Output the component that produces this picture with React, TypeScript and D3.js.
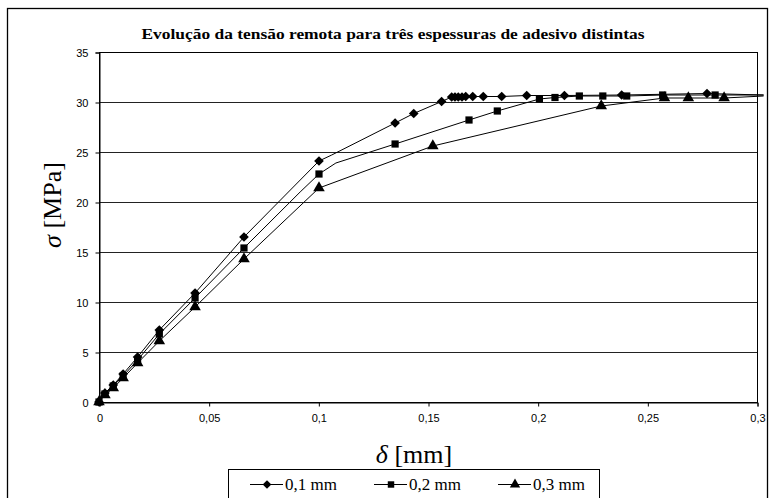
import { useEffect, useRef } from "react";
import * as d3 from "d3";

// each point: [delta (mm), sigma (MPa), marker shown 1/0]
const S1: [number, number, number][] = [
  [0, 0, 1], [0.0027, 0.9, 1], [0.0065, 1.7, 1], [0.011, 2.8, 1], [0.0176, 4.5, 1],
  [0.0275, 7.2, 1], [0.0438, 10.9, 1], [0.0661, 16.5, 1], [0.1003, 24.1, 1],
  [0.1061, 24.7, 0], [0.135, 27.9, 1], [0.1435, 28.85, 1], [0.1562, 30.05, 1],
  [0.1608, 30.5, 1], [0.1623, 30.5, 1], [0.1638, 30.5, 1], [0.1655, 30.5, 1],
  [0.1672, 30.55, 1], [0.1704, 30.55, 1], [0.1752, 30.55, 1], [0.1836, 30.55, 1],
  [0.195, 30.65, 1], [0.2122, 30.65, 1], [0.2383, 30.7, 1], [0.2772, 30.85, 1],
  [0.303, 30.7, 0],
];
const S2: [number, number, number][] = [
  [0, 0, 1], [0.0027, 0.8, 1], [0.0065, 1.6, 1], [0.011, 2.6, 1], [0.0176, 4.2, 1],
  [0.0275, 6.8, 1], [0.0438, 10.4, 1], [0.0661, 15.4, 1], [0.0917, 21.0, 0],
  [0.1003, 22.8, 1], [0.108, 23.9, 0], [0.135, 25.8, 1], [0.1687, 28.2, 1],
  [0.1816, 29.1, 1], [0.2008, 30.3, 1], [0.2079, 30.45, 1], [0.219, 30.6, 1],
  [0.2297, 30.6, 1], [0.2406, 30.6, 1], [0.257, 30.7, 1], [0.2809, 30.7, 1],
  [0.303, 30.7, 0],
];
const S3: [number, number, number][] = [
  [0, 0, 1], [0.0027, 0.7, 1], [0.0065, 1.4, 1], [0.011, 2.4, 1], [0.0176, 3.9, 1],
  [0.0275, 6.1, 1], [0.0438, 9.5, 1], [0.0661, 14.3, 1], [0.1003, 21.4, 1],
  [0.1522, 25.6, 1], [0.229, 29.6, 1], [0.2578, 30.4, 1], [0.2687, 30.4, 1],
  [0.285, 30.4, 1], [0.303, 30.6, 0],
];
const SERIES_NAMES = ["0,1 mm", "0,2 mm", "0,3 mm"];
const X_TICKS = [0, 0.05, 0.1, 0.15, 0.2, 0.25, 0.3];
const Y_TICKS = [0, 5, 10, 15, 20, 25, 30, 35];
const TITLE = "Evolução da tensão remota para três espessuras de adesivo distintas";

const W = 770;
const H = 498;
const M = { top: 52, right: 13, bottom: 96, left: 99 };

const SYMBOLS = [d3.symbolDiamond2, d3.symbolSquare, d3.symbolTriangle];
const SIZES = [60, 52, 58];

const SERIF = "Times New Roman, Liberation Serif, Tinos, serif";
const SANS = "Arial, Liberation Sans, Arimo, sans-serif";

export default function App() {
  const ref = useRef<SVGSVGElement>(null);

  useEffect(() => {
    if (!ref.current) return;
    const svg = d3.select(ref.current);
    svg.selectAll("*").remove();

    const innerW = W - M.left - M.right;
    const innerH = H - M.top - M.bottom;

    const x = d3.scaleLinear().domain([0, 0.3]).range([M.left, M.left + innerW]);
    const y = d3.scaleLinear().domain([0, 35]).range([M.top + innerH, M.top]);

    // outer chart border
    svg
      .append("rect")
      .attr("x", 7.5)
      .attr("y", 8.5)
      .attr("width", 760)
      .attr("height", 520)
      .attr("fill", "#fff")
      .attr("stroke", "#000")
      .attr("stroke-width", 1.3);

    svg
      .append("text")
      .attr("x", 393)
      .attr("y", 39)
      .attr("text-anchor", "middle")
      .attr("font-family", SERIF)
      .attr("font-weight", "bold")
      .attr("font-size", 15)
      .attr("textLength", 503)
      .attr("lengthAdjust", "spacingAndGlyphs")
      .text(TITLE);

    // gridlines
    svg
      .append("g")
      .selectAll("line")
      .data(Y_TICKS.filter((t) => t > 0 && t < 35))
      .join("line")
      .attr("x1", M.left)
      .attr("x2", M.left + innerW)
      .attr("y1", (d) => Math.round(y(d)) + 0.5)
      .attr("y2", (d) => Math.round(y(d)) + 0.5)
      .attr("stroke", "#222")
      .attr("stroke-width", 1);

    // plot frame
    svg
      .append("rect")
      .attr("x", M.left + 0.5)
      .attr("y", M.top + 0.5)
      .attr("width", innerW)
      .attr("height", innerH)
      .attr("fill", "none")
      .attr("stroke", "#000");

    const axisStyle = (g: d3.Selection<SVGGElement, unknown, null, undefined>) => {
      g.select(".domain").attr("stroke", "#000");
      g.selectAll("line").attr("stroke", "#000");
      g.selectAll("text").attr("fill", "#000").attr("font-size", 11).attr("font-family", SANS);
    };

    svg
      .append("g")
      .attr("transform", `translate(0.5,${M.top + innerH + 0.5})`)
      .call(
        d3
          .axisBottom(x)
          .tickValues(X_TICKS)
          .tickSize(4)
          .tickPadding(8)
          .tickFormat((d) => String(d).replace(".", ","))
      )
      .call(axisStyle);

    svg
      .append("g")
      .attr("transform", `translate(${M.left + 0.5},0.5)`)
      .call(d3.axisLeft(y).tickValues(Y_TICKS).tickSize(4).tickPadding(7))
      .call(axisStyle);

    // axis titles
    const yl = svg
      .append("text")
      .attr("transform", "translate(61,205) rotate(-90)")
      .attr("text-anchor", "middle")
      .attr("font-family", SERIF)
      .attr("font-size", 26);
    yl.append("tspan").attr("font-style", "italic").text("σ");
    yl.append("tspan").text(" [MPa]");

    const xl = svg
      .append("text")
      .attr("x", 414)
      .attr("y", 463)
      .attr("text-anchor", "middle")
      .attr("font-family", SERIF)
      .attr("font-size", 26);
    xl.append("tspan").attr("font-style", "italic").text("δ");
    xl.append("tspan").text(" [mm]");

    // series
    const line = d3
      .line<[number, number, number]>()
      .x((d) => x(d[0]))
      .y((d) => y(d[1]));

    [S1, S2, S3].forEach((s, i) => {
      const g = svg.append("g");
      g.append("path")
        .attr("d", line(s))
        .attr("fill", "none")
        .attr("stroke", "#000")
        .attr("stroke-width", 1);
      g.selectAll("path.m")
        .data(s.filter((d) => d[2] === 1))
        .join("path")
        .attr("class", "m")
        .attr("transform", (d) => `translate(${x(d[0])},${y(d[1])})`)
        .attr("d", d3.symbol().type(SYMBOLS[i]).size(SIZES[i])())
        .attr("fill", "#000");
    });

    // legend
    const lg = svg.append("g");
    lg.append("rect")
      .attr("x", 228.5)
      .attr("y", 469.5)
      .attr("width", 371)
      .attr("height", 40)
      .attr("fill", "#fff")
      .attr("stroke", "#000");
    const lx = [250, 374, 498];
    SERIES_NAMES.forEach((name, i) => {
      lg.append("line")
        .attr("x1", lx[i])
        .attr("x2", lx[i] + 33)
        .attr("y1", 484.5)
        .attr("y2", 484.5)
        .attr("stroke", "#000");
      lg.append("path")
        .attr("transform", `translate(${lx[i] + 17},484.5)`)
        .attr("d", d3.symbol().type(SYMBOLS[i]).size(SIZES[i] * 0.8)())
        .attr("fill", "#000");
      lg.append("text")
        .attr("x", lx[i] + 35)
        .attr("y", 490)
        .attr("font-family", SERIF)
        .attr("font-size", 17)
        .text(name);
    });
  }, []);

  return (
    <svg
      ref={ref}
      width={W}
      height={H}
      viewBox={`0 0 ${W} ${H}`}
      style={{ position: "absolute", left: 0, top: 0, background: "#fff" }}
    />
  );
}
